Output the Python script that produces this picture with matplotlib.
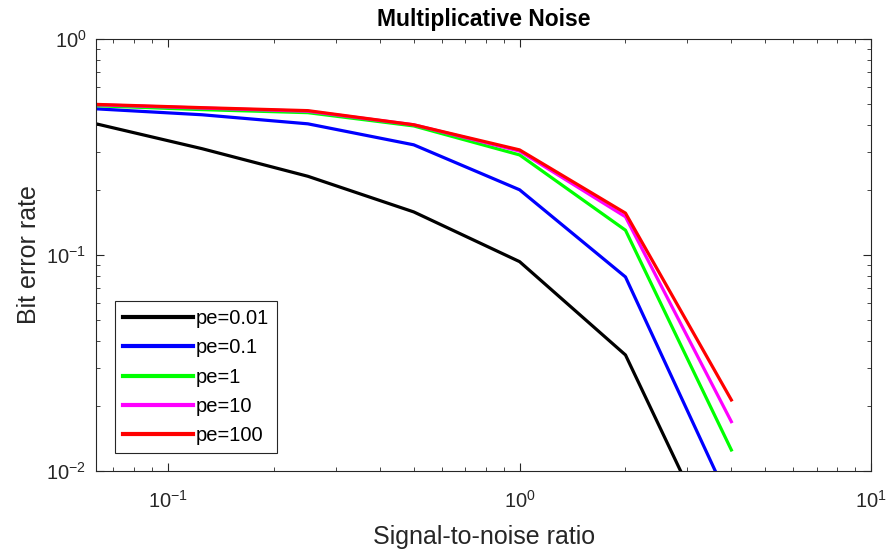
import numpy as np
import matplotlib
matplotlib.use("Agg")
import matplotlib.pyplot as plt
from matplotlib.ticker import LogLocator, NullFormatter

plt.rcParams['font.family'] = ['Liberation Sans', 'DejaVu Sans']
plt.rcParams['mathtext.fontset'] = 'custom'
plt.rcParams['mathtext.rm'] = 'Liberation Sans'
plt.rcParams['mathtext.default'] = 'regular'

# signal-to-noise ratio values
snr = [0.0625, 0.125, 0.25, 0.5, 1, 2, 4]

# bit error rate per pe
ber_001 = [0.404, 0.31, 0.231, 0.158, 0.093, 0.0344, 0.0032]
ber_01 = [0.474, 0.445, 0.404, 0.323, 0.200, 0.079, 0.0069]
ber_1 = [0.49, 0.47, 0.455, 0.395, 0.290, 0.130, 0.0125]
ber_10 = [0.495, 0.478, 0.462, 0.40, 0.302, 0.150, 0.0169]
ber_100 = [0.497, 0.48, 0.465, 0.40, 0.306, 0.156, 0.0213]

labels = ['pe=0.01', 'pe=0.1', 'pe=1', 'pe=10', 'pe=100']
colors = ['#000000', '#0000ff', '#00ff00', '#ff00ff', '#ff0000']
series = [ber_001, ber_01, ber_1, ber_10, ber_100]

fig = plt.figure(figsize=(8.9, 5.54), dpi=100)
ax = fig.add_axes([0.108, 0.150, 0.871, 0.780])

for ys, c, lab in zip(series, colors, labels):
    ax.plot(snr, ys, color=c, lw=2.3, label=lab)

ax.set_xscale('log')
ax.set_yscale('log')
ax.set_xlim(0.0625, 10)
ax.set_ylim(0.01, 1)

ax.xaxis.set_major_locator(LogLocator(base=10, numticks=10))
ax.xaxis.set_minor_locator(LogLocator(base=10, subs=np.arange(2, 10), numticks=10))
ax.yaxis.set_minor_locator(LogLocator(base=10, subs=np.arange(2, 10), numticks=10))
ax.xaxis.set_minor_formatter(NullFormatter())
ax.yaxis.set_minor_formatter(NullFormatter())

gray = '#262626'
for s in ax.spines.values():
    s.set_color(gray)
    s.set_linewidth(0.8)
ax.tick_params(which='both', direction='in', top=True, right=True, colors=gray,
               labelsize=14.5, labelcolor=gray)
ax.tick_params(which='major', length=6)
ax.tick_params(axis='x', which='major', pad=14)
ax.tick_params(axis='y', which='major', pad=7)
ax.tick_params(which='minor', length=3)

ax.set_xlabel('Signal-to-noise ratio', fontsize=18, color=gray, labelpad=9)
ax.set_ylabel('Bit error rate', fontsize=18, color=gray, labelpad=4)
ax.set_title('Multiplicative Noise', fontsize=16.5, fontweight='bold', pad=9)

leg = ax.legend(loc='lower left', bbox_to_anchor=(0.024, 0.042), fontsize=14.5,
                handlelength=3.5, handletextpad=0.1, labelspacing=0.5,
                borderpad=0.4, borderaxespad=0, fancybox=False, framealpha=1,
                edgecolor=gray)
for line in leg.get_lines():
    line.set_linewidth(3.0)
leg.get_frame().set_linewidth(0.8)

fig.savefig('out.png', dpi=100)
